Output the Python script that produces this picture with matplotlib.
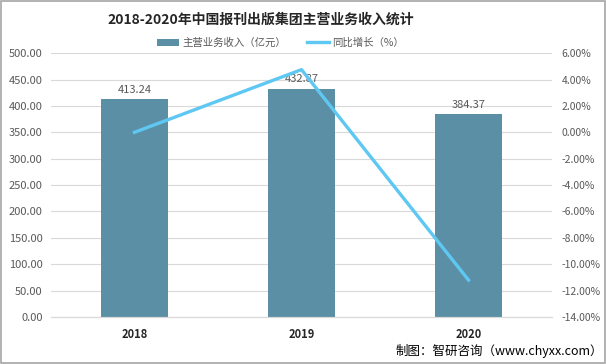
import matplotlib.pyplot as plt
import matplotlib.patches as patches
import numpy as np

plt.rcParams['font.family'] = ['Noto Sans CJK SC', 'DejaVu Sans']

# data
years = ['2018', '2019', '2020']
revenue = [413.24, 432.87, 384.37]
growth = [0.0, 4.75, -11.20]

bar_color = '#5b8fa6'
line_color = '#5ec8f2'
tick_color = '#595959'

fig = plt.figure(figsize=(6.06, 3.64), dpi=100)
ax = fig.add_axes([0.084, 0.129, 0.827, 0.725])
ax2 = ax.twinx()

x = np.arange(len(years))
bars = ax.bar(x, revenue, width=0.4, color=bar_color, zorder=2,
              label='主营业务收入（亿元）')
for xi, v in zip(x, revenue):
    ax.text(xi, v + 8, f'{v:.2f}', ha='center', va='bottom',
            fontsize=8, color=tick_color, zorder=5)

ax2.plot(x, growth, color=line_color, linewidth=2.4, zorder=3,
         label='同比增长（%）')

ax.set_xlim(-0.5, 2.5)
ax.set_ylim(0, 500)
ax.set_yticks(np.arange(0, 501, 50))
ax.set_yticklabels([f'{v:.2f}' for v in np.arange(0, 501, 50)])
ax2.set_ylim(-14, 6)
ax2.set_yticks(np.arange(-14, 7, 2))
ax2.set_yticklabels([f'{v:.2f}%' for v in np.arange(-14, 7, 2)])

ax.set_xticks(x)
ax.set_xticklabels(years, fontweight='bold', fontsize=8, color='#262626')

ax.grid(axis='y', color='#d9d9d9', linewidth=0.8, zorder=0)
ax.set_axisbelow(True)
for a in (ax, ax2):
    for s in ['top', 'left', 'right']:
        a.spines[s].set_visible(False)
    a.spines['bottom'].set_color('#d9d9d9')
    a.tick_params(length=0)
ax.tick_params(axis='y', labelsize=8, labelcolor=tick_color, pad=6)
ax2.tick_params(axis='y', labelsize=7.5, labelcolor=tick_color, pad=7)
ax.tick_params(axis='x', pad=8)

fig.text(0.431, 0.945, '2018-2020年中国报刊出版集团主营业务收入统计',
         ha='center', va='center', fontsize=10, fontweight='bold',
         color='#262626')

h1, l1 = ax.get_legend_handles_labels()
h2, l2 = ax2.get_legend_handles_labels()
fig.legend(h1 + h2, l1 + l2, loc='center', bbox_to_anchor=(0.463, 0.882),
           ncol=2, frameon=False, fontsize=7.5, labelcolor=tick_color,
           handlelength=2.1, columnspacing=2.0, handletextpad=0.3)

fig.text(0.995, 0.035, '制图：智研咨询（www.chyxx.com）', ha='right',
         va='center', fontsize=9, color='#000000')

fig.patches.append(patches.Rectangle((0.001, 0.002), 0.997, 0.995,
                                     transform=fig.transFigure, fill=False,
                                     edgecolor='#a6a6a6', linewidth=1.2))

fig.savefig('out.png', dpi=100)
